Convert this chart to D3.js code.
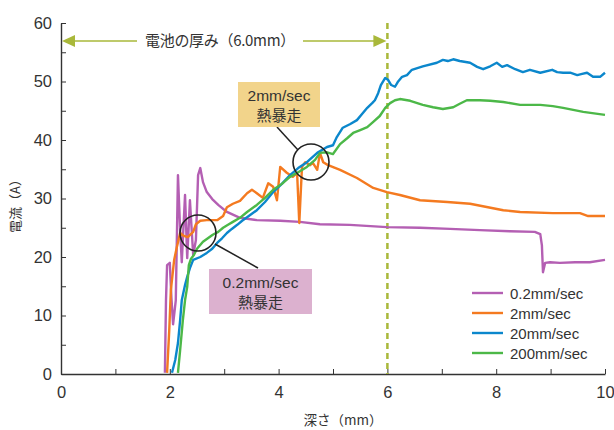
<!DOCTYPE html>
<html><head><meta charset="utf-8">
<script src="https://cdn.jsdelivr.net/npm/d3@7"></script>
<style>
body{margin:0;background:#fff;}
text{font-family:"Liberation Sans","Noto Sans CJK JP",sans-serif;fill:#333;}
.jp{font-family:"Noto Sans CJK JP","Liberation Sans",sans-serif;}
</style></head>
<body><svg id="c" width="614" height="430"></svg>
<script>
const seriesNames = ["0.2mm/sec","2mm/sec","20mm/sec","200mm/sec"];
const seriesColors = ["#b45fb3","#f47a20","#0b87cc","#4cb848"];
const xTicks = [0,2,4,6,8,10];
const yTicks = [0,10,20,30,40,50,60];

const s02 = [[1.91,0.2],[1.93,12.6],[1.95,18.6],[2.0,19],[2.03,13],[2.06,8.5],[2.11,12.6],[2.15,34],[2.19,24.6],[2.22,19.1],[2.28,30.6],[2.32,19.8],[2.37,29.7],[2.43,20.3],[2.48,22.9],[2.52,34],[2.56,35.2],[2.61,32.8],[2.68,31.1],[2.78,29.9],[2.89,28.9],[3.05,27.7],[3.29,26.7],[3.6,26.3],[4.03,26.2],[4.39,26],[4.76,25.6],[5.31,25.5],[5.99,25.1],[6.6,25.0],[7.15,24.8],[7.7,24.6],[8.25,24.4],[8.71,24.3],[8.81,23.9],[8.84,22],[8.86,17.4],[8.9,19],[8.99,19.1],[9.17,19],[9.45,19.1],[9.72,19.1],[10.0,19.5]];
const s2 = [[1.95,0.2],[1.99,7.5],[2.02,14.4],[2.08,19.5],[2.13,21.7],[2.19,24.1],[2.26,23.6],[2.33,23.4],[2.43,24.3],[2.48,25.6],[2.56,26.2],[2.68,26.3],[2.87,26.3],[2.98,27],[3.05,28.5],[3.16,29.1],[3.29,29.6],[3.42,30.9],[3.51,31.5],[3.6,30.9],[3.71,30.1],[3.81,32.6],[3.9,32],[3.97,29.7],[4.03,35.4],[4.15,34.4],[4.26,33.7],[4.34,34.4],[4.38,25.8],[4.43,35.4],[4.49,36.2],[4.58,35.7],[4.63,36.1],[4.71,34.9],[4.76,37.8],[4.82,36.2],[4.91,35.7],[5.13,34.9],[5.44,33.5],[5.74,31.8],[5.99,31.1],[6.23,30.6],[6.6,29.7],[7.1,29.4],[7.52,29.1],[8.13,28],[8.44,27.7],[9.04,27.5],[9.54,27.5],[9.69,27],[10.0,27]];
const s20 = [[2.04,0.2],[2.1,2.4],[2.15,5.3],[2.19,9.2],[2.22,12.6],[2.28,15.2],[2.32,16.6],[2.37,18.1],[2.43,19.5],[2.56,20],[2.68,20.7],[2.78,21.4],[2.87,22.4],[2.96,23.2],[3.05,24.1],[3.14,24.8],[3.24,25.5],[3.33,26.2],[3.42,26.8],[3.6,28],[3.75,29.4],[3.9,31.1],[4.06,32.5],[4.21,34],[4.36,35.2],[4.52,36.2],[4.71,37.8],[4.89,38.8],[5.0,39.1],[5.07,40.5],[5.18,42.1],[5.31,42.7],[5.44,43.4],[5.53,44.4],[5.63,45.5],[5.72,46.3],[5.77,46.8],[5.83,48],[5.88,49.4],[5.96,50.6],[6.01,50.3],[6.07,49.4],[6.14,49.1],[6.19,49.9],[6.27,50.8],[6.36,51.1],[6.45,52],[6.65,52.6],[6.91,53.2],[7.02,53.7],[7.11,53.5],[7.21,53.8],[7.33,53.5],[7.52,53.2],[7.65,52.5],[7.76,52.1],[7.89,52.6],[8.01,53.2],[8.11,52.5],[8.2,52.8],[8.35,52.1],[8.49,51.6],[8.62,52],[8.81,51.5],[9.03,52],[9.12,51.6],[9.23,51.5],[9.36,51.5],[9.49,51.1],[9.58,51.3],[9.67,51.5],[9.78,50.8],[9.91,50.8],[10.0,51.5]];
const s200 = [[2.15,0.2],[2.19,4.1],[2.24,9.2],[2.28,12.6],[2.32,14.9],[2.35,18.6],[2.39,19.7],[2.44,20.3],[2.5,21.4],[2.61,22.6],[2.7,23.2],[2.79,23.8],[2.89,24.3],[2.98,25],[3.07,25.5],[3.16,26],[3.29,26.7],[3.42,27.7],[3.6,28.9],[3.75,30.1],[3.9,31.5],[4.06,32.5],[4.21,33.7],[4.36,34.5],[4.52,35.4],[4.67,36.6],[4.76,37.8],[4.89,37.9],[5.0,37.6],[5.13,39.3],[5.26,40.3],[5.37,41.2],[5.5,41.7],[5.63,42.2],[5.74,43.1],[5.86,44.1],[5.96,45.5],[6.05,46.3],[6.14,46.8],[6.23,47],[6.42,46.7],[6.65,46],[6.84,45.6],[7.02,45.3],[7.21,45.6],[7.33,46.2],[7.46,46.8],[7.7,46.8],[7.89,46.7],[8.13,46.5],[8.44,46],[8.81,46],[9.04,45.8],[9.23,45.5],[9.6,44.8],[10.0,44.3]];
const allSeries = [s02, s2, s20, s200];

const svg = d3.select("#c");
const x = d3.scaleLinear().domain([0,10]).range([61,605]);
const y = d3.scaleLinear().domain([0,60]).range([374,23]);

// axes
const xAxis = d3.axisBottom(x).tickValues(d3.range(0,11,1)).tickSizeInner(-5).tickSizeOuter(0).tickFormat(d => xTicks.includes(d) ? d : "");
const gx = svg.append("g").attr("transform","translate(0,374)").call(xAxis);
gx.select(".domain").attr("stroke","#333").attr("stroke-width",1.4);
gx.selectAll(".tick line").attr("stroke","#333").attr("stroke-width",1);
gx.selectAll(".tick text").attr("y",12).attr("font-size",16.5).attr("fill","#333");

const yAxis = d3.axisLeft(y).tickValues(d3.range(0,61,5)).tickSizeInner(-5).tickSizeOuter(0).tickFormat(d => yTicks.includes(d) ? d : "");
const gy = svg.append("g").attr("transform","translate(61,0)").call(yAxis);
gy.select(".domain").attr("stroke","#333").attr("stroke-width",1.4);
gy.selectAll(".tick line").attr("stroke","#333").attr("stroke-width",1);
gy.selectAll(".tick text").attr("x",-9).attr("font-size",16.5).attr("fill","#333");
svg.selectAll(".tick text").style("font-family","'Liberation Sans',sans-serif");

// axis titles
svg.append("text").attr("class","jp").attr("x",343).attr("y",425).attr("text-anchor","middle").attr("font-size",13.5).text("深さ（mm）");
svg.append("text").attr("class","jp").attr("transform","translate(20,203) rotate(-90)").attr("text-anchor","middle").attr("font-size",13).text("電流（A）");

// thickness marker
const olive = "#a9b83a";
svg.append("line").attr("x1",x(6)).attr("x2",x(6)).attr("y1",y(60)).attr("y2",y(0))
  .attr("stroke",olive).attr("stroke-width",2.5).attr("stroke-dasharray","6,4");
const ay = 41;
svg.append("line").attr("x1",x(0)+12).attr("x2",137).attr("y1",ay).attr("y2",ay).attr("stroke",olive).attr("stroke-width",1.6);
svg.append("line").attr("x1",303).attr("x2",x(6)-12).attr("y1",ay).attr("y2",ay).attr("stroke",olive).attr("stroke-width",1.6);
svg.append("path").attr("d",`M${x(0)+1},${ay} l13,-6 l0,12 z`).attr("fill",olive);
svg.append("path").attr("d",`M${x(6)-1},${ay} l-13,-6 l0,12 z`).attr("fill",olive);
svg.append("text").attr("class","jp").attr("x",220).attr("y",ay+5).attr("text-anchor","middle").attr("font-size",15).attr("letter-spacing",-0.3).text("電池の厚み（6.0mm）");

// lines
const line = d3.line().x(d => x(d[0])).y(d => y(d[1]));
allSeries.forEach((s,i) => {
  svg.append("path").datum(s).attr("d",line).attr("fill","none")
    .attr("stroke",seriesColors[i]).attr("stroke-width",2.4).attr("stroke-linejoin","round");
});

// callouts
function callout(bx,by,bw,bh,fill,l1,l2,cx,cy,r,lx1,ly1,lx2,ly2){
  svg.append("line").attr("x1",lx1).attr("y1",ly1).attr("x2",lx2).attr("y2",ly2).attr("stroke","#222").attr("stroke-width",1.5);
  svg.append("circle").attr("cx",cx).attr("cy",cy).attr("r",r).attr("fill","none").attr("stroke","#222").attr("stroke-width",1.6);
  svg.append("rect").attr("x",bx).attr("y",by).attr("width",bw).attr("height",bh).attr("fill",fill);
  svg.append("text").attr("x",bx+bw/2).attr("y",by+19).attr("text-anchor","middle").attr("font-size",15.5).text(l1);
  svg.append("text").attr("class","jp").attr("x",bx+bw/2).attr("y",by+39).attr("text-anchor","middle").attr("font-size",15).text(l2);
}
callout(238,82,82,45,"#f2d48b","2mm/sec","熱暴走",311,162,18,277,127,298,150);
callout(209,269,103,45,"#dcb1cf","0.2mm/sec","熱暴走",198,233,18,215,244,258,268);

// legend
const lg = svg.append("g");
seriesNames.forEach((n,i) => {
  const yy = 293 + i*20;
  lg.append("line").attr("x1",472).attr("x2",503).attr("y1",yy).attr("y2",yy).attr("stroke",seriesColors[i]).attr("stroke-width",2.4);
  lg.append("text").attr("x",510).attr("y",yy+5.5).attr("font-size",15).text(n);
});
</script></body></html>
